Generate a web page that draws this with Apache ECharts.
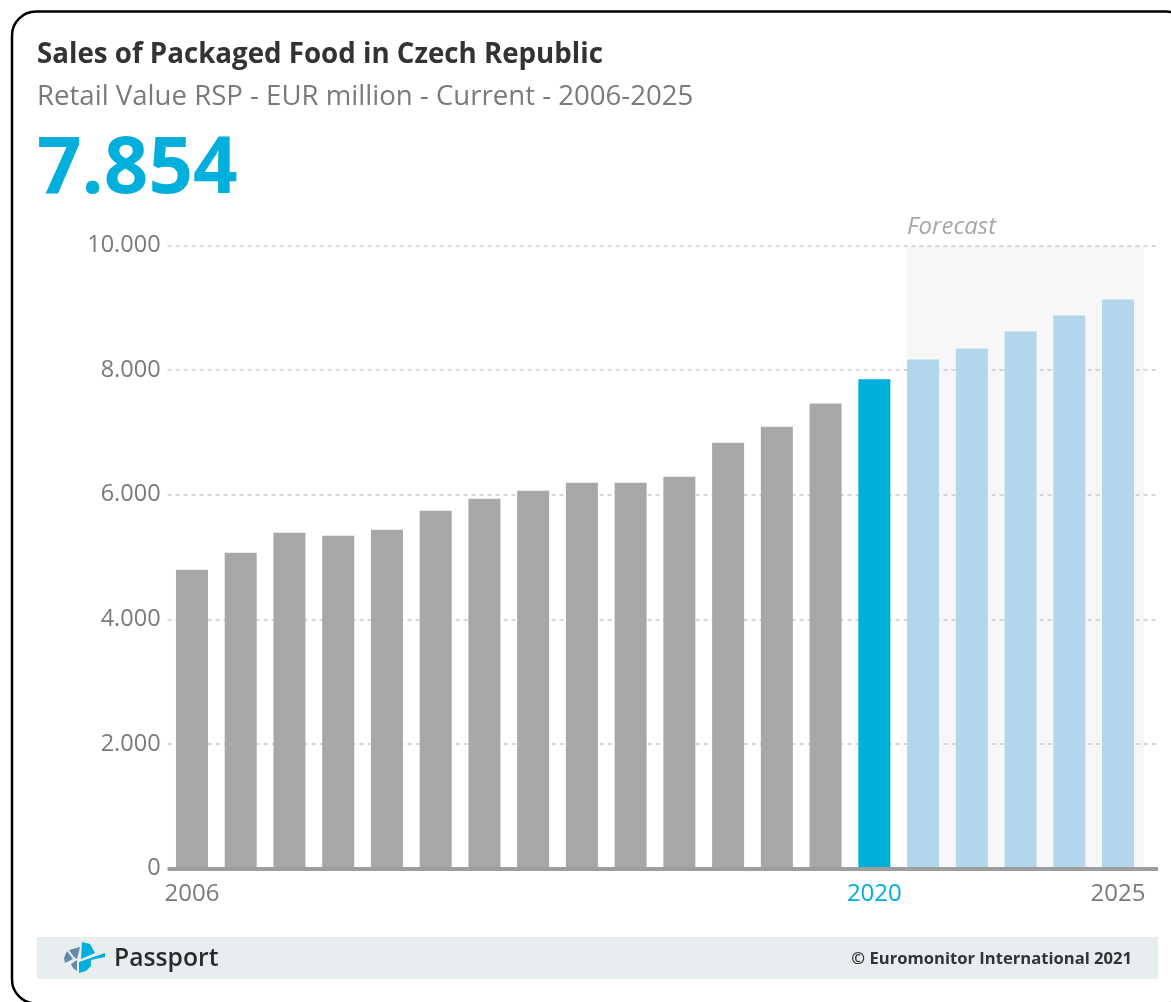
<!DOCTYPE html>
<html>
<head>
<meta charset="utf-8">
<style>html,body{margin:0;padding:0;background:#fff}#chart{width:1171px;height:1002px}</style>
<script src="https://cdn.jsdelivr.net/npm/echarts@6/dist/echarts.min.js"></script>
</head>
<body>
<div id="chart"></div>
<script>
// Packaged food retail value, EUR million
const years = [2006,2007,2008,2009,2010,2011,2012,2013,2014,2015,2016,2017,2018,2019,2020,2021,2022,2023,2024,2025];
const sales = [4795,5068,5390,5341,5438,5743,5936,6064,6193,6193,6289,6835,7092,7462,7854,8169,8345,8618,8876,9133];
const labelledYears = [2006,2020,2025];
const currentYear = 2020;
const titleText = 'Sales of Packaged Food in Czech Republic';
const subtitleText = 'Retail Value RSP - EUR million - Current - 2006-2025';
const headlineText = '7.854';

const FONT = '"Open Sans", sans-serif';
const dotted = n => String(n).replace(/\B(?=(\d{3})+$)/g, '.');
const barColor = y => y < currentYear ? '#a6a7a9' : y === currentYear ? '#00afdb' : '#b2d7eb';

const chart = echarts.init(document.getElementById('chart'));
chart.setOption({
  animation: false,
  backgroundColor: '#fff',
  textStyle: {fontFamily: FONT},
  grid: {left: 167.6, top: 245.5, width: 990.4, height: 623},
  xAxis: {
    type: 'value', min: 2005.5, max: 2025.82, z: 10,
    splitLine: {show: false},
    axisLine: {show: true, lineStyle: {color: '#9d9e9f', width: 4, cap: 'butt'}, onZero: false},
    axisTick: {show: false},
    axisLabel: {
      customValues: labelledYears,
      margin: 14,
      fontSize: 24, fontFamily: FONT,
      color: '#7a7a7a',
      formatter: v => v === currentYear ? `{cur|${v}}` : String(v),
      rich: {cur: {color: '#00afdb', fontSize: 24, fontFamily: FONT}}
    }
  },
  yAxis: {
    type: 'value', min: 0, max: 10000, interval: 2000, z: 2,
    axisLine: {show: false}, axisTick: {show: false},
    splitLine: {lineStyle: {color: '#c9c9c9', type: [4, 4], width: 1.5}},
    axisLabel: {margin: 7, padding: [3, 0, 0, 0], fontSize: 23.5, fontFamily: FONT, color: '#7a7a7a', formatter: dotted}
  },
  series: [{
    type: 'bar',
    barWidth: 32,
    z: 3,
    data: years.map((y, i) => ({value: [y, sales[i]], itemStyle: {color: barColor(y)}})),
    markArea: {
      silent: true,
      z: 1,
      itemStyle: {color: '#f7f7f7'},
      label: {
        show: true, position: [0, -30], align: 'left',
        formatter: 'Forecast', fontStyle: 'italic', fontSize: 24, fontFamily: FONT, color: '#a6a7a9'
      },
      data: [[{xAxis: 2020.67, yAxis: 10000}, {xAxis: 2025.53, yAxis: 0}]]
    }
  }],
  graphic: [
    {type: 'rect', z: 0, shape: {x: 12, y: 11.5, width: 1178, height: 992, r: 24}, style: {fill: 'none', stroke: '#000', lineWidth: 2.5}},
    {type: 'rect', z: 0, shape: {x: 37, y: 937, width: 1121, height: 42}, style: {fill: '#e8eeef'}},
    {type: 'text', z: 5, x: 37, y: 55, style: {text: titleText, fontFamily: FONT, fontWeight: 700, fontSize: 27.7, fill: '#333', verticalAlign: 'middle'}},
    {type: 'text', z: 5, x: 37, y: 97, style: {text: subtitleText, fontFamily: FONT, fontSize: 27.6, fill: '#7a7a7a', verticalAlign: 'middle'}},
    {type: 'text', z: 5, x: 37, y: 171, style: {text: headlineText, fontFamily: FONT, fontWeight: 700, fontSize: 78, fill: '#00afdb', verticalAlign: 'middle'}},
    {type: 'text', z: 5, x: 114, y: 959, style: {text: 'Passport', fontFamily: FONT, fontWeight: 600, fontSize: 24.7, fill: '#2b2b2b', verticalAlign: 'middle'}},
    {type: 'text', z: 5, x: 1132, y: 959, style: {text: '\u00a9 Euromonitor International 2021', fontFamily: FONT, fontWeight: 700, fontSize: 16.6, fill: '#333', align: 'right', verticalAlign: 'middle'}},
    // Passport logo: a broken circle of wedges
    {type: 'polygon', z: 5, shape: {points: [[82,942],[90,944],[95,953],[81,959]]}, style: {fill: '#00afdb'}},
    {type: 'polygon', z: 5, shape: {points: [[79,962],[105,953],[105,957],[91,960],[91,966],[86,971],[79,973]]}, style: {fill: '#00afdb'}},
    {type: 'polygon', z: 5, shape: {points: [[69,950],[80,947],[77,959],[74,957]]}, style: {fill: '#5f8ba8'}},
    {type: 'polygon', z: 5, shape: {points: [[64,958],[67,951],[73,959],[65,963]]}, style: {fill: '#5f8ba8'}},
    {type: 'polygon', z: 5, shape: {points: [[71,964],[77,960],[77,971],[73,968]]}, style: {fill: '#5f8ba8'}}
  ]
});
</script>
</body>
</html>
